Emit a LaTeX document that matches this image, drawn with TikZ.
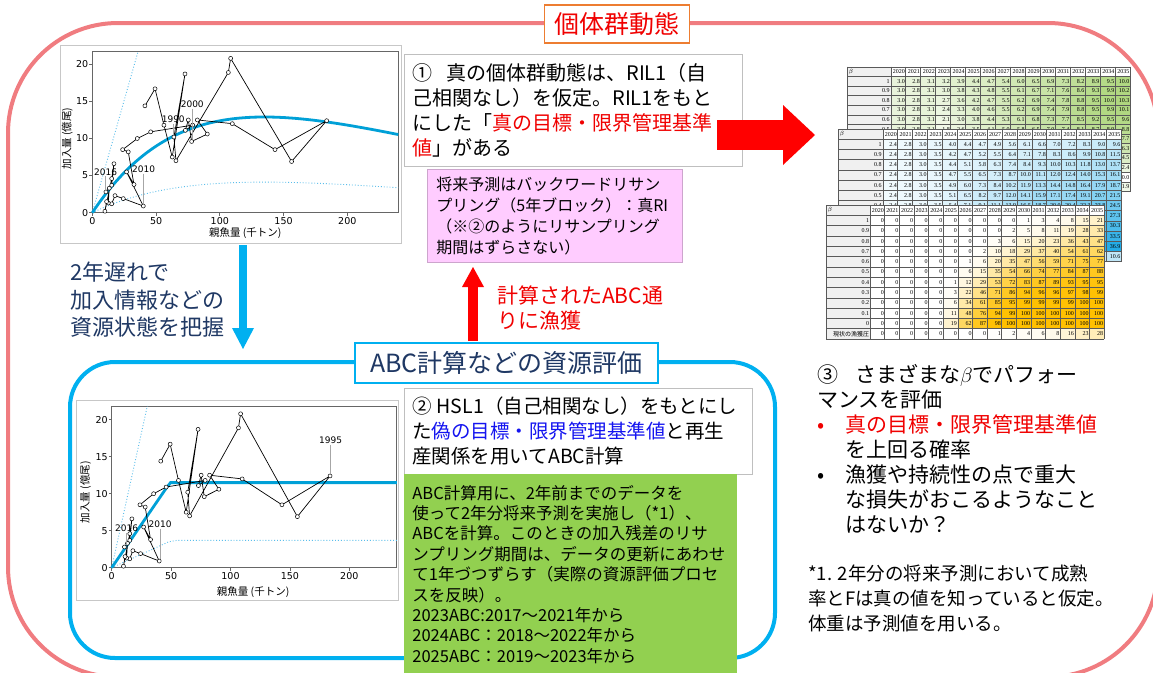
\documentclass[tikz,border=0pt]{standalone}
\usepackage{fontspec}
\setmainfont{Noto Sans CJK JP}
\newfontfamily\plotfont{DejaVu Sans}
\newfontfamily\tblfont{Liberation Serif}
\usepackage{xcolor}
\usetikzlibrary{arrows.meta, positioning}

\definecolor{popred}{RGB}{240,124,128}
\definecolor{ttlorange}{RGB}{237,125,49}
\definecolor{txtred}{RGB}{240,0,0}
\definecolor{arrred}{RGB}{255,0,0}
\definecolor{abcblue}{RGB}{0,176,240}
\definecolor{navy}{RGB}{31,56,100}
\definecolor{fakeblue}{RGB}{20,20,240}
\definecolor{pinkfill}{RGB}{255,204,255}
\definecolor{pinkline}{RGB}{205,165,205}
\definecolor{greenfill}{RGB}{146,208,80}
\definecolor{boxgrey}{RGB}{191,191,191}
\definecolor{fitblue}{RGB}{0,160,215}
\definecolor{fitdotblue}{RGB}{90,190,235}
\definecolor{tblgreen}{RGB}{146,200,80}
\definecolor{tblblue}{RGB}{30,170,230}
\definecolor{tblorange}{RGB}{255,192,0}
\definecolor{tblhead}{RGB}{240,240,240}

\tikzset{
  tbltxt/.style={font=\tblfont\fontsize{6}{6}\selectfont, inner sep=0pt},
  tblgrid/.style={draw=black!65, line width=0.35pt}
}

% spawning-stock / recruitment points (1985-2021)
\newcommand{\srlist}{41.3/14.4, 49.2/16.7, 56.2/11.8, 62.7/7.5, 72.7/18.7,
  64.0/10.2, 65.6/7.0, 106.7/18.9, 108.5/20.8, 156.3/6.9, 183.8/12.4,
  143.3/8.5, 109.8/12.0, 82.4/12.5, 90.2/10.6, 77.9/9.6, 75.3/12.5,
  73.0/11.1, 78.7/11.8, 45.8/10.9, 35.3/10.0, 23.8/8.5, 28.2/8.2,
  32.7/3.8, 26.9/5.5, 40.0/0.9, 24.3/1.9, 17.8/2.3, 15.2/1.2, 12.5/1.3,
  13.3/3.3, 10.7/2.8, 15.2/3.7, 17.0/6.6, 15.2/4.6, 9.9/0.2, 11.2/1.5}

% rows of a table whose numbers are printed (the rest lies under the next table)
\newcommand{\tbltextrows}{12}

% table: name, x0, y0, label width, column width, row height, colour, max, rows
\newcommand{\drawtbl}[9]{%
\begin{scope}[shift={(#2,#3)}]
  \fill[white] (0,0) rectangle ({#4+16*#5},{13*#6});
  \fill[tblhead] (0,0) rectangle (#4,{13*#6});
  \node[tbltxt, anchor=west] (#1b) at (1.5,{0.5*#6}) {$\beta$};
  \foreach \yr [count=\c] in {2020,...,2035}
    \node[tbltxt, anchor=east] (#1h\c) at ({#4+\c*#5-0.6},{0.5*#6}) {\yr};
  \foreach \lab/\vals [count=\r] in {#9} {
    \ifnum\r>\tbltextrows\relax\else
      \node[tbltxt, anchor=east] (#1r\r) at ({#4-0.8},{(\r+0.5)*#6}) {\lab};
    \fi
    \foreach \v [count=\c] in \vals {
      \pgfmathsetmacro\pct{min(100,100*\v/#8)}
      \pgfmathtruncatemacro\shown{(\r<=\tbltextrows)||(\c==16)}
      \fill[#7!\pct!white] ({#4+(\c-1)*#5},{\r*#6}) rectangle ++(#5,#6);
      \ifnum\shown=1
        \node[tbltxt, anchor=east] (#1c\r-\c) at ({#4+\c*#5-0.6},{(\r+0.5)*#6}) {\v};
      \fi
    }
  }
  \foreach \c in {0,...,16}
    \draw[tblgrid] ({#4+\c*#5},0) -- ++(0,{13*#6});
  \draw[tblgrid] (0,0) -- ++(0,{13*#6});
  \foreach \r in {0,...,13}
    \draw[tblgrid] (0,{\r*#6}) -- ++({#4+16*#5},0);
\end{scope}}

\begin{document}
\begin{tikzpicture}[x=1pt, y=-1pt,
    popframe/.style={draw=popred, line width=4pt, rounded corners=110pt},
    abcframe/.style={draw=abcblue, line width=4pt, rounded corners=45pt},
    ttlbox/.style={fill=white, line width=1.5pt, inner sep=0pt, font=\fontsize{25}{25}\selectfont},
    textbox/.style={draw=boxgrey, fill=white, line width=0.8pt, align=left, inner xsep=8pt, inner ysep=0pt},
    plotframe/.style={draw=black!22, fill=white, line width=0.8pt, inner sep=0pt},
    axframe/.style={draw=black!60, line width=0.8pt},
    ticklab/.style={font=\plotfont\fontsize{9.5}{9.5}\selectfont, inner sep=0pt},
    axlab/.style={font=\fontsize{10.5}{10.5}\selectfont, inner sep=0pt},
    yrlab/.style={font=\plotfont\fontsize{9}{9}\selectfont, inner sep=1pt},
    labtick/.style={draw=black!35, line width=0.7pt},
    fitthick/.style={draw=fitblue, line width=2.8pt},
    fitdot/.style={draw=fitdotblue, line width=0.9pt, dotted},
    srline/.style={draw=black, line width=0.7pt},
    srdot/.style={circle, draw=black, fill=white, line width=0.5pt, inner sep=0pt, minimum size=4pt},
    bigarrow/.style={draw=arrred, line width=30pt, -{Triangle[length=32pt, width=60pt, line width=0pt]}},
    uparrow/.style={draw=arrred, line width=10pt, -{Triangle[length=20pt, width=22pt, line width=0pt]}},
    downarrow/.style={draw=abcblue, line width=8pt, -{Triangle[length=21pt, width=22pt, line width=0pt]}},
    plaintext/.style={align=left, inner sep=0pt, anchor=north west}
]
\useasboundingbox (0,0) rectangle (1153,672);

% Frames
\draw[popframe] (8,23) rectangle (1158,677);
\node[ttlbox, draw=ttlorange, text=txtred, minimum width=145pt, minimum height=38pt] (popttl) at (617,24) {個体群動態};
\draw[abcframe] (70,362) rectangle (775,658);
\node[ttlbox, draw=abcblue, line width=2pt, text=navy, minimum width=303pt, minimum height=40pt] (abcttl) at (506.5,363) {ABC計算などの資源評価};

% Plot A: true recruitment (RIL1)
\node[plotframe, anchor=north west, minimum width=341pt, minimum height=198pt] (plotA) at (60,45) {};
\begin{scope}[shift={(92.3,212.7)}, x=1.275pt, y=7.42pt]
  \draw[axframe] (0,0) rectangle (240,21.8);
  \foreach \t in {0,50,100,150,200} {
    \draw[axframe] (\t,0) -- (\t,-0.45);
    \node[ticklab, anchor=north] (axAx\t) at (\t,-0.6) {\t};}
  \foreach \t in {0,5,10,15,20} {
    \draw[axframe] (0,\t) -- (-2.4,\t);
    \node[ticklab, anchor=east] (axAy\t) at (-3,\t) {\t};}
  \node[axlab] (axAxl) at (120,-2.8) {親魚量 (千トン)};
  \node[axlab, rotate=90] (axAyl) at (-19.6,10) {加入量 (億尾)};
  \draw[fitdot] (0,0) -- (36,21.8);
  \draw[fitdot] plot[domain=0:240, samples=80] (\x,{0.083*\x*exp(-\x/135)});
  \draw[fitthick] plot[domain=0:240, samples=80] (\x,{0.2597*\x*exp(-\x/135)});
  \draw[srline] (41.3,14.4) \foreach \sx/\sy in \srlist { -- (\sx,\sy)};
  \foreach \sx/\sy [count=\i] in \srlist
    \node[srdot] (srA\i) at (\sx,\sy) {};
  \node[yrlab] (yrA2016) at (10.5,5.5) {2016};
  \node[yrlab] (yrA2010) at (40.3,5.9) {2010};
  \node[yrlab] (yrA1990) at (63.5,12.6) {1990};
  \node[yrlab] (yrA2000) at (78.4,14.6) {2000};
  \draw[labtick] (yrA2016.south) -- (yrA2016.south |- srA32.north);
  \draw[labtick] (yrA2010.south) -- (yrA2010.south |- srA26.north);
  \draw[labtick] (yrA1990.south) -- (yrA1990.south |- srA6.north);
  \draw[labtick] (yrA2000.south) -- (yrA2000.south |- srA16.north);
\end{scope}

% Plot B: assumed recruitment (HSL1)
\node[plotframe, anchor=north west, minimum width=322pt, minimum height=200pt] (plotB) at (76,400) {};
\begin{scope}[shift={(111.7,567.7)}, x=1.188pt, y=7.4pt]
  \draw[axframe] (0,0) rectangle (240,21.85);
  \foreach \t in {0,50,100,150,200} {
    \draw[axframe] (\t,0) -- (\t,-0.45);
    \node[ticklab, anchor=north] (axBx\t) at (\t,-0.6) {\t};}
  \foreach \t in {0,5,10,15,20} {
    \draw[axframe] (0,\t) -- (-2.5,\t);
    \node[ticklab, anchor=east] (axBy\t) at (-3.2,\t) {\t};}
  \node[axlab] (axBxl) at (119,-3.3) {親魚量 (千トン)};
  \node[axlab, rotate=90] (axByl) at (-22,10.2) {加入量 (億尾)};
  \draw[fitdot] (0,0) -- (30,21.85);
  \draw[fitdot] (0,0) -- (48,3.5) -- (55,3.7) -- (240,3.7);
  \draw[fitthick] (0,0) -- (45.7,10.7) -- (49.5,11.5) -- (240,11.5);
  \draw[srline] (41.3,14.4) \foreach \sx/\sy in \srlist { -- (\sx,\sy)};
  \foreach \sx/\sy [count=\i] in \srlist
    \node[srdot] (srB\i) at (\sx,\sy) {};
  \node[yrlab] (yrB2016) at (12.6,5.3) {2016};
  \node[yrlab] (yrB2010) at (40.7,5.9) {2010};
  \node[yrlab] (yrB1995) at (184.3,17.2) {1995};
  \draw[labtick] (yrB2016.south) -- (yrB2016.south |- srB32.north);
  \draw[labtick] (yrB2010.south) -- (yrB2010.south |- srB26.north);
  \draw[labtick] (yrB1995.south) -- (yrB1995.south |- srB11.north);
\end{scope}

% Text boxes
\node[textbox, anchor=north west, text width=322pt, minimum height=112pt,
      font=\fontsize{20}{25}\selectfont] (truebox) at (404,54)
  {①\hspace{0.7em}真の個体群動態は、RIL1（自\\
   己相関なし）を仮定。RIL1をもと\\
   にした「\textcolor{txtred}{真の目標・限界管理基準}\\
   \textcolor{txtred}{値}」がある};
\node[textbox, draw=pinkline, fill=pinkfill, anchor=north west, text width=237pt,
      inner xsep=9pt, minimum height=93pt, font=\fontsize{16}{21}\selectfont] (pinkbox) at (427,169)
  {将来予測はバックワードリサン\\
   プリング（5年ブロック）：真RI\\
   （※②のようにリサンプリング\\
   期間はずらさない）};
\node[textbox, anchor=north west, text width=332pt, minimum height=86pt,
      font=\fontsize{19.5}{25}\selectfont] (fakebox) at (404,388)
  {②\hspace{0.25em}HSL1（自己相関なし）をもとにし\\
   た\textcolor{fakeblue}{偽の目標・限界管理基準値}と再生\\
   産関係を用いてABC計算};
\node[textbox, draw=none, fill=greenfill, anchor=north west, text width=317pt,
      minimum height=200pt, font=\fontsize{16.5}{20.4}\selectfont] (abcbox) at (404,474)
  {ABC計算用に、2年前までのデータを\\
   使って2年分将来予測を実施し（*1）、\\
   ABCを計算。このときの加入残差のリサ\\
   ンプリング期間は、データの更新にあわせ\\
   て1年づつずらす（実際の資源評価プロセ\\
   スを反映）。\\
   2023ABC:2017～2021年から\\
   2024ABC：2018～2022年から\\
   2025ABC：2019～2023年から};

% Tables (green, blue, orange)
\renewcommand{\tbltextrows}{6}
\drawtbl{tg}{847}{66.7}{43.7}{14.96}{9.6}{tblgreen}{14}{
  1/{3.0,2.8,3.1,3.2,3.9,4.4,4.7,5.4,6.0,6.5,6.9,7.3,8.2,8.9,9.5,10.0},
  0.9/{3.0,2.8,3.1,3.0,3.8,4.3,4.8,5.5,6.1,6.7,7.1,7.6,8.6,9.3,9.9,10.2},
  0.8/{3.0,2.8,3.1,2.7,3.6,4.2,4.7,5.5,6.2,6.9,7.4,7.8,8.8,9.5,10.0,10.3},
  0.7/{3.0,2.8,3.1,2.4,3.3,4.0,4.6,5.5,6.2,6.9,7.4,7.9,8.8,9.5,9.9,10.1},
  0.6/{3.0,2.8,3.1,2.1,3.0,3.8,4.4,5.3,6.1,6.8,7.3,7.7,8.5,9.2,9.5,9.6},
  0.5/{3.0,2.8,3.1,1.8,2.6,3.5,4.1,5.0,5.8,6.5,7.0,7.4,8.1,8.7,8.9,8.8},
  0.4/{3.0,2.8,3.1,1.5,2.2,3.1,3.7,4.6,5.4,6.0,6.4,6.8,7.3,7.8,7.9,7.7},
  0.3/{3.0,2.8,3.1,1.1,1.7,2.6,3.2,4.0,4.7,5.2,5.6,5.9,6.3,6.6,6.5,6.3},
  0.2/{3.0,2.8,3.1,0.8,1.2,1.9,2.4,3.1,3.7,4.1,4.4,4.6,4.8,4.9,4.7,4.5},
  0.1/{3.0,2.8,3.1,0.4,0.6,1.0,1.3,1.7,2.0,2.2,2.4,2.5,2.6,2.6,2.5,2.4},
  0/{3.0,2.8,3.1,0.0,0.0,0.0,0.0,0.0,0.0,0.0,0.0,0.0,0.0,0.0,0.0,0.0},
  {\normalfont 現状の漁獲圧}/{3.0,2.8,3.1,2.9,3.0,2.9,2.8,2.6,2.5,2.4,2.3,2.2,2.1,2.0,1.9,1.9}}
\renewcommand{\tbltextrows}{7}
\drawtbl{tb}{838}{129}{44.7}{14.9}{10.2}{tblblue}{38}{
  1/{2.4,2.8,3.0,3.5,4.0,4.4,4.7,4.9,5.6,6.1,6.6,7.0,7.2,8.3,9.0,9.6},
  0.9/{2.4,2.8,3.0,3.5,4.2,4.7,5.2,5.5,6.4,7.1,7.8,8.3,8.6,9.9,10.8,11.5},
  0.8/{2.4,2.8,3.0,3.5,4.4,5.1,5.8,6.3,7.4,8.4,9.3,10.0,10.3,11.8,13.0,13.7},
  0.7/{2.4,2.8,3.0,3.5,4.7,5.5,6.5,7.3,8.7,10.0,11.1,12.0,12.4,14.0,15.3,16.1},
  0.6/{2.4,2.8,3.0,3.5,4.9,6.0,7.3,8.4,10.2,11.9,13.3,14.4,14.8,16.4,17.9,18.7},
  0.5/{2.4,2.8,3.0,3.5,5.1,6.5,8.2,9.7,12.0,14.1,15.9,17.1,17.4,19.1,20.7,21.5},
  0.4/{2.4,2.8,3.0,3.5,5.4,7.1,9.1,11.1,13.9,16.5,18.7,20.0,20.4,22.3,23.8,24.5},
  0.3/{2.4,2.8,3.0,3.5,5.7,7.7,10.1,12.6,16.0,19.1,21.6,23.0,23.4,25.4,26.8,27.3},
  0.2/{2.4,2.8,3.0,3.5,6.0,8.3,11.1,14.2,18.3,21.8,24.5,26.1,26.6,28.5,29.8,30.3},
  0.1/{2.4,2.8,3.0,3.5,6.3,9.0,12.2,16.0,20.7,24.6,27.6,29.3,29.8,31.7,32.9,33.5},
  0/{2.4,2.8,3.0,3.5,6.6,9.7,13.4,17.9,23.3,27.6,30.9,32.6,33.1,35.0,36.3,36.9},
  {\normalfont 現状の漁獲圧}/{2.4,2.8,3.0,3.5,4.1,4.6,5.0,5.4,6.1,6.8,7.5,8.1,8.5,9.4,10.1,10.6}}
\renewcommand{\tbltextrows}{12}
\drawtbl{to}{826}{205}{44}{14.625}{10.3}{tblorange}{100}{
  1/{0,0,0,0,0,0,0,0,0,0,1,3,4,8,15,21},
  0.9/{0,0,0,0,0,0,0,0,0,2,5,8,11,19,28,33},
  0.8/{0,0,0,0,0,0,0,0,3,6,15,20,23,36,43,47},
  0.7/{0,0,0,0,0,0,0,2,10,18,29,37,40,54,61,62},
  0.6/{0,0,0,0,0,0,1,6,20,35,47,56,59,71,75,77},
  0.5/{0,0,0,0,0,0,6,15,35,54,66,74,77,84,87,88},
  0.4/{0,0,0,0,0,1,12,29,53,72,83,87,89,93,95,95},
  0.3/{0,0,0,0,0,3,22,46,71,86,94,96,96,97,98,99},
  0.2/{0,0,0,0,0,6,34,61,85,95,99,99,99,99,100,100},
  0.1/{0,0,0,0,0,11,48,76,94,99,100,100,100,100,100,100},
  0/{0,0,0,0,0,19,62,87,98,100,100,100,100,100,100,100},
  {\normalfont 現状の漁獲圧}/{0,0,0,0,0,0,0,0,1,2,4,6,8,16,23,28}}

% Free texts
\node[plaintext, text=txtred, font=\fontsize{21}{25}\selectfont] (catchlab) at (497,286)
  {計算されたABC通\\りに漁獲};
\node[plaintext, text=navy, font=\fontsize{22}{27.5}\selectfont] (infolab) at (70,262)
  {2年遅れで\\加入情報などの\\資源状態を把握};
\node[plaintext, font=\fontsize{21}{25}\selectfont] (perftext) at (817,364)
  {③\hspace{0.8em}さまざまな$\beta$でパフォー\\
   マンスを評価\\
   \textcolor{txtred}{\makebox[28pt][l]{•}真の目標・限界管理基準値}\\
   \hspace*{28pt}を上回る確率\\
   \makebox[28pt][l]{•}漁獲や持続性の点で重大\\
   \hspace*{28pt}な損失がおこるようなこと\\
   \hspace*{28pt}はないか？};
\node[plaintext, font=\fontsize{18.5}{25}\selectfont] (notetext) at (808,565)
  {*1. 2年分の将来予測において成熟\\
   率とFは真の値を知っていると仮定。\\
   体重は予測値を用いる。};

% Arrows
\coordinate (simStart) at (717,135);
\coordinate (simEnd) at (815,135);
\draw[bigarrow] (simStart) -- (simEnd);
\coordinate (catchFoot) at (473,341);
\coordinate (catchTip) at (473,267);
\draw[uparrow] (catchFoot) -- (catchTip);
\coordinate (infoTop) at (243,245);
\coordinate (infoEnd) at (243,349);
\draw[downarrow] (infoTop) -- (infoEnd);

\end{tikzpicture}
\end{document}
